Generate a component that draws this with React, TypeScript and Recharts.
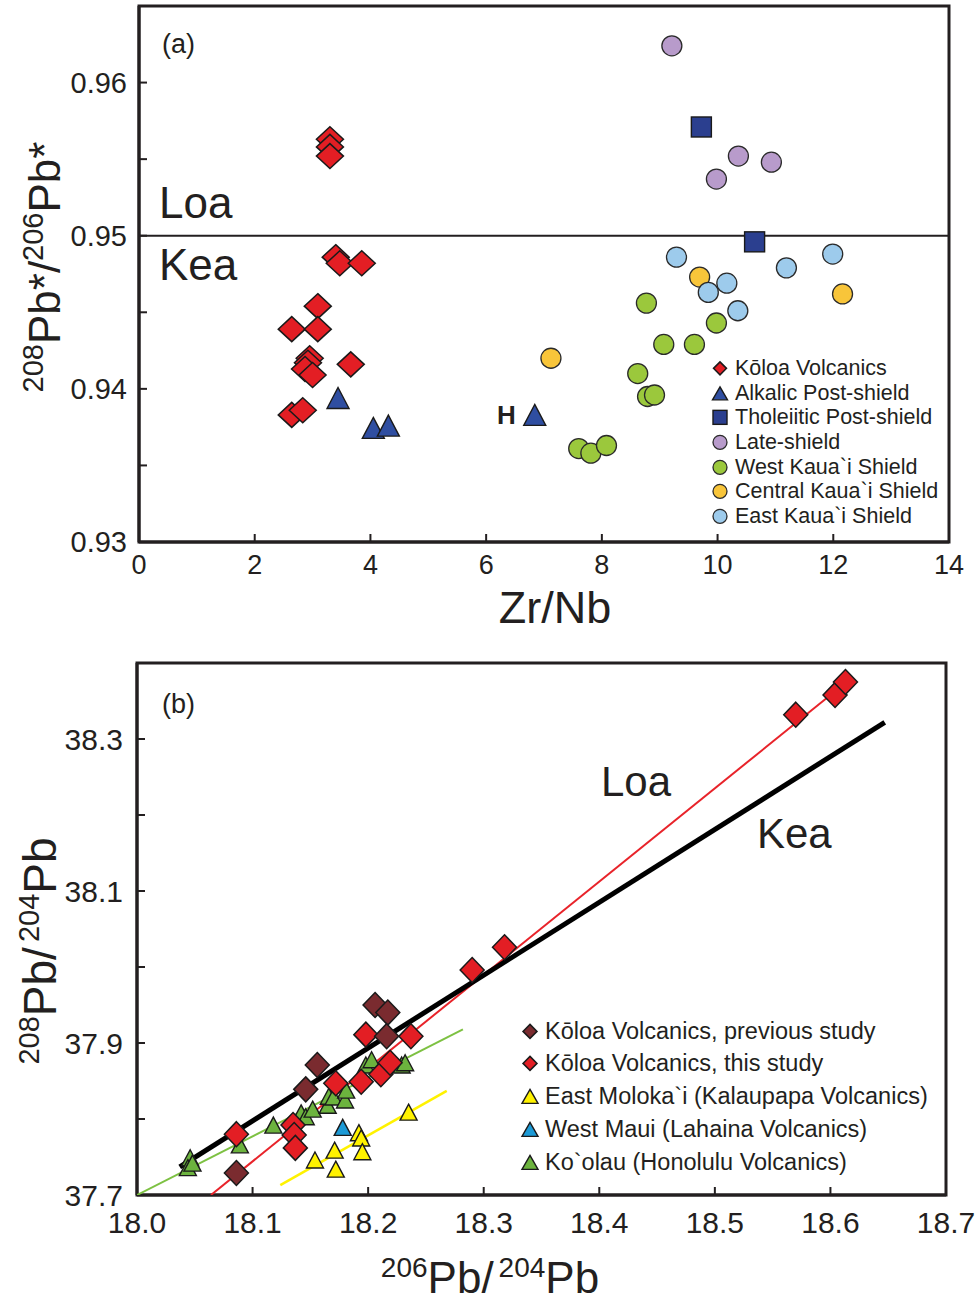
import React from 'react'
import { ScatterChart, Scatter, XAxis, YAxis, ReferenceLine, ReferenceArea, Legend } from 'recharts'

const FONT = '"Liberation Sans", Arial, Helvetica, sans-serif'
const INK = '#231f20'
const EDGE = '#1a1a1a'

// ---- panel (a): Zr/Nb vs 208Pb*/206Pb*
const koloaA = [
  { x: 3.3, y: 0.9563 }, { x: 3.3, y: 0.9558 }, { x: 3.3, y: 0.9552 },
  { x: 3.4, y: 0.9486 }, { x: 3.47, y: 0.9482 }, { x: 3.85, y: 0.9482 },
  { x: 3.09, y: 0.9454 }, { x: 2.64, y: 0.9439 }, { x: 3.09, y: 0.9439 },
  { x: 2.95, y: 0.942 }, { x: 2.92, y: 0.9417 }, { x: 2.87, y: 0.9413 }, { x: 3.0, y: 0.9409 },
  { x: 3.66, y: 0.9416 }, { x: 2.64, y: 0.9383 }, { x: 2.83, y: 0.9386 },
]
const alkalicA = [{ x: 3.44, y: 0.9394 }, { x: 4.05, y: 0.93745 }, { x: 4.31, y: 0.9376 }, { x: 6.84, y: 0.9383 }]
const tholeiiticA = [{ x: 9.72, y: 0.9571 }, { x: 10.64, y: 0.9496 }]
const lateShieldA = [{ x: 9.21, y: 0.9624 }, { x: 10.36, y: 0.9552 }, { x: 10.93, y: 0.9548 }, { x: 9.98, y: 0.9537 }]
const westKauaiA = [
  { x: 8.77, y: 0.9456 }, { x: 9.98, y: 0.9443 }, { x: 9.07, y: 0.9429 }, { x: 9.6, y: 0.9429 },
  { x: 8.62, y: 0.941 }, { x: 8.79, y: 0.9395 }, { x: 8.91, y: 0.9396 },
  { x: 7.6, y: 0.9361 }, { x: 7.81, y: 0.9358 }, { x: 8.08, y: 0.9363 },
]
const centralKauaiA = [{ x: 9.69, y: 0.9473 }, { x: 12.16, y: 0.9462 }, { x: 7.12, y: 0.942 }]
const eastKauaiA = [
  { x: 9.29, y: 0.9486 }, { x: 11.19, y: 0.9479 }, { x: 11.99, y: 0.9488 },
  { x: 10.16, y: 0.9469 }, { x: 9.84, y: 0.9463 }, { x: 10.35, y: 0.9451 },
]
const seriesNamesA = [
  'Kōloa Volcanics', 'Alkalic Post-shield', 'Tholeiitic Post-shield', 'Late-shield',
  'West Kaua`i Shield', 'Central Kaua`i Shield', 'East Kaua`i Shield',
]
const xTicksA = [0, 2, 4, 6, 8, 10, 12, 14]
const yTicksA = [0.93, 0.935, 0.94, 0.945, 0.95, 0.955, 0.96]
const yLabelsA = [0.93, 0.94, 0.95, 0.96]
const loaKeaSplit = 0.95

// ---- panel (b): 206Pb/204Pb vs 208Pb/204Pb
const koloaPrevB = [
  { x: 18.206, y: 37.95 }, { x: 18.217, y: 37.94 }, { x: 18.216, y: 37.909 },
  { x: 18.156, y: 37.871 }, { x: 18.146, y: 37.839 }, { x: 18.086, y: 37.729 },
]
const koloaThisB = [
  { x: 18.57, y: 38.332 }, { x: 18.604, y: 38.358 }, { x: 18.613, y: 38.375 },
  { x: 18.318, y: 38.026 }, { x: 18.29, y: 37.996 },
  { x: 18.198, y: 37.911 }, { x: 18.237, y: 37.909 },
  { x: 18.172, y: 37.847 }, { x: 18.194, y: 37.849 }, { x: 18.211, y: 37.859 }, { x: 18.219, y: 37.874 },
  { x: 18.086, y: 37.78 }, { x: 18.135, y: 37.792 }, { x: 18.136, y: 37.779 }, { x: 18.137, y: 37.762 },
]
const molokaiB = [
  { x: 18.235, y: 37.809 }, { x: 18.192, y: 37.782 }, { x: 18.194, y: 37.775 }, { x: 18.195, y: 37.757 },
  { x: 18.171, y: 37.759 }, { x: 18.172, y: 37.734 }, { x: 18.154, y: 37.746 },
]
const mauiB = [{ x: 18.178, y: 37.789 }]
const koolauB = [
  { x: 18.046, y: 37.749 }, { x: 18.044, y: 37.736 }, { x: 18.048, y: 37.742 },
  { x: 18.089, y: 37.766 }, { x: 18.118, y: 37.792 }, { x: 18.142, y: 37.808 }, { x: 18.146, y: 37.803 },
  { x: 18.152, y: 37.813 }, { x: 18.165, y: 37.818 }, { x: 18.166, y: 37.83 }, { x: 18.17, y: 37.829 },
  { x: 18.18, y: 37.825 }, { x: 18.181, y: 37.838 }, { x: 18.198, y: 37.871 }, { x: 18.203, y: 37.878 },
  { x: 18.229, y: 37.871 }, { x: 18.232, y: 37.874 },
]
const keaLine = [{ x: 18.037, y: 37.737 }, { x: 18.647, y: 38.322 }]
const koloaLine = [{ x: 18.064, y: 37.7 }, { x: 18.614, y: 38.375 }]
const koolauLine = [{ x: 18.0, y: 37.7 }, { x: 18.282, y: 37.918 }]
const molokaiLine = [{ x: 18.124, y: 37.713 }, { x: 18.268, y: 37.837 }]
const seriesNamesB = [
  'Kōloa Volcanics, previous study', 'Kōloa Volcanics, this study',
  'East Moloka`i (Kalaupapa Volcanics)', 'West Maui (Lahaina Volcanics)', 'Ko`olau (Honolulu Volcanics)',
]
const xTicksB = [18.0, 18.1, 18.2, 18.3, 18.4, 18.5, 18.6, 18.7]
const yTicksB = [37.7, 37.8, 37.9, 38.0, 38.1, 38.2, 38.3]
const yLabelsB = [37.7, 37.9, 38.1, 38.3]

type P = { cx?: number; cy?: number }

const diamond = (rx: number, ry: number, fill: string) => ({ cx = 0, cy = 0 }: P) => (
  <polygon points={`${cx},${cy - ry} ${cx + rx},${cy} ${cx},${cy + ry} ${cx - rx},${cy}`}
    fill={fill} stroke={EDGE} strokeWidth={1.5} />
)
const triangle = (w: number, h: number, fill: string) => ({ cx = 0, cy = 0 }: P) => (
  <polygon points={`${cx},${cy - h / 2} ${cx + w / 2},${cy + h / 2} ${cx - w / 2},${cy + h / 2}`}
    fill={fill} stroke={EDGE} strokeWidth={1.4} strokeLinejoin="miter" />
)
const square = (s: number, fill: string) => ({ cx = 0, cy = 0 }: P) => (
  <rect x={cx - s / 2} y={cy - s / 2} width={s} height={s} fill={fill} stroke={EDGE} strokeWidth={1.4} />
)
const circle = (r: number, fill: string) => ({ cx = 0, cy = 0 }: P) => (
  <circle cx={cx} cy={cy} r={r} fill={fill} stroke="#2a2a2a" strokeWidth={1.3} />
)
const noMark = () => <g />

const C = {
  red: '#e31e24', alk: '#2f4ea1', thol: '#2b3f8f', late: '#b89bcb',
  west: '#9bc83c', central: '#f8c53a', east: '#9dcbec',
  brown: '#7a2b2f', yellow: '#fff200', maui: '#1c9ad6', green: '#6cb33e',
}

const marksA = [
  diamond(13.5, 12.5, C.red), triangle(22, 21, C.alk), square(20, C.thol), circle(10, C.late),
  circle(10, C.west), circle(10, C.central), circle(10, C.east),
]
const keyMarksA = [
  diamond(6.5, 6.5, C.red), triangle(15, 13, C.alk), square(14, C.thol), circle(7, C.late),
  circle(7, C.west), circle(7, C.central), circle(7, C.east),
]
const keyMarksB = [
  diamond(7, 7, C.brown), diamond(7, 7, C.red), triangle(16, 14, C.yellow),
  triangle(16, 14, C.maui), triangle(16, 14, C.green),
]

function KeyList({ names, marks, rowH, fontSize }: { names: string[]; marks: ((p: P) => JSX.Element)[]; rowH: number; fontSize: number }) {
  return (
    <div style={{ fontFamily: FONT, color: INK, fontSize }}>
      {names.map((n, i) => (
        <div key={n} style={{ display: 'flex', alignItems: 'center', height: rowH, whiteSpace: 'nowrap' }}>
          <svg width={24} height={rowH} style={{ flex: 'none' }}>{marks[i]({ cx: 12, cy: rowH / 2 })}</svg>
          <span style={{ marginLeft: 3, lineHeight: `${rowH}px` }}>{n}</span>
        </div>
      ))}
    </div>
  )
}

const axisLine = { stroke: INK, strokeWidth: 3 }
const tickLine = { stroke: INK, strokeWidth: 2 }
const near = (list: number[], v: number) => list.some((l) => Math.abs(l - v) < 1e-9)

export default function App() {
  return (
    <div style={{ position: 'absolute', left: 0, top: 0, width: 975, height: 1306, background: '#fff' }}>
      <div style={{ position: 'absolute', left: 0, top: 0 }}>
        <ScatterChart width={975} height={640} margin={{ top: 6, right: 26, bottom: 58, left: 79 }}>
          <XAxis type="number" dataKey="x" domain={[0, 14]} ticks={xTicksA} interval={0} allowDataOverflow
            height={40} tickSize={-8} tickMargin={21} axisLine={axisLine} tickLine={tickLine}
            tick={{ fontSize: 27, fill: INK, fontFamily: FONT }} />
          <YAxis type="number" dataKey="y" domain={[0.93, 0.965]} ticks={yTicksA} interval={0} allowDataOverflow
            width={60} tickSize={-8} tickMargin={20} axisLine={axisLine} tickLine={tickLine}
            tickFormatter={(v: number) => (near(yLabelsA, v) ? v.toFixed(2) : '')}
            tick={{ fontSize: 29, fill: INK, fontFamily: FONT }} />
          <ReferenceArea x1={0} x2={14} y1={0.93} y2={0.965} fill="none" fillOpacity={0} stroke={INK} strokeWidth={3} />
          <ReferenceLine y={loaKeaSplit} stroke={INK} strokeWidth={2} />
          <Scatter data={westKauaiA} shape={marksA[4]} isAnimationActive={false} />
          <Scatter data={centralKauaiA} shape={marksA[5]} isAnimationActive={false} />
          <Scatter data={eastKauaiA} shape={marksA[6]} isAnimationActive={false} />
          <Scatter data={lateShieldA} shape={marksA[3]} isAnimationActive={false} />
          <Scatter data={tholeiiticA} shape={marksA[2]} isAnimationActive={false} />
          <Scatter data={alkalicA} shape={marksA[1]} isAnimationActive={false} />
          <Scatter data={koloaA} shape={marksA[0]} isAnimationActive={false} />
          <Legend layout="horizontal" verticalAlign="middle" align="center"
            wrapperStyle={{ left: 708, top: 356, width: 262 }}
            content={() => <KeyList names={seriesNamesA} marks={keyMarksA} rowH={24.7} fontSize={21.5} />} />
        </ScatterChart>
      </div>

      <div style={{ position: 'absolute', left: 0, top: 640 }}>
        <ScatterChart width={975} height={666} margin={{ top: 23, right: 29, bottom: 71, left: 77 }}>
          <XAxis type="number" dataKey="x" domain={[18.0, 18.7]} ticks={xTicksB} interval={0} allowDataOverflow
            height={40} tickSize={-8} tickMargin={25} axisLine={axisLine} tickLine={tickLine}
            tickFormatter={(v: number) => v.toFixed(1)}
            tick={{ fontSize: 30, fill: INK, fontFamily: FONT }} />
          <YAxis type="number" dataKey="y" domain={[37.7, 38.4]} ticks={yTicksB} interval={0} allowDataOverflow
            width={60} tickSize={-8} tickMargin={22} axisLine={axisLine} tickLine={tickLine}
            tickFormatter={(v: number) => (near(yLabelsB, v) ? v.toFixed(1) : '')}
            tick={{ fontSize: 30, fill: INK, fontFamily: FONT }} />
          <ReferenceArea x1={18.0} x2={18.7} y1={37.7} y2={38.4} fill="none" fillOpacity={0} stroke={INK} strokeWidth={3} />
          <Scatter data={koolauLine} line={{ stroke: '#7dc142', strokeWidth: 2 }} shape={noMark} isAnimationActive={false} />
          <Scatter data={molokaiLine} line={{ stroke: '#fff200', strokeWidth: 2.5 }} shape={noMark} isAnimationActive={false} />
          <Scatter data={koloaLine} line={{ stroke: '#e8232a', strokeWidth: 2 }} shape={noMark} isAnimationActive={false} />
          <Scatter data={keaLine} line={{ stroke: '#000', strokeWidth: 5 }} shape={noMark} isAnimationActive={false} />
          <Scatter data={koolauB} shape={triangle(17, 16, C.green)} isAnimationActive={false} />
          <Scatter data={molokaiB} shape={triangle(17, 16, C.yellow)} isAnimationActive={false} />
          <Scatter data={mauiB} shape={triangle(17, 16, C.maui)} isAnimationActive={false} />
          <Scatter data={koloaThisB} shape={diamond(12, 12.5, C.red)} isAnimationActive={false} />
          <Scatter data={koloaPrevB} shape={diamond(12, 12.5, C.brown)} isAnimationActive={false} />
          <Legend layout="horizontal" verticalAlign="middle" align="center"
            wrapperStyle={{ left: 518, top: 374.5, width: 445 }}
            content={() => <KeyList names={seriesNamesB} marks={keyMarksB} rowH={32.8} fontSize={23.5} />} />
        </ScatterChart>
      </div>

      <svg width={975} height={1306} style={{ position: 'absolute', left: 0, top: 0, pointerEvents: 'none' }}
        fontFamily={FONT} fill={INK}>
        <text x={162} y={53} fontSize={27}>(a)</text>
        <text x={159} y={218} fontSize={44}>Loa</text>
        <text x={159} y={280} fontSize={44}>Kea</text>
        <text x={497} y={424} fontSize={26} fontWeight="bold">H</text>
        <text transform="translate(60,267) rotate(-90)" textAnchor="middle" fontSize={44}>
          <tspan fontSize={29} dy={-17}>208</tspan><tspan dy={17}>Pb*/</tspan>
          <tspan fontSize={29} dy={-17}>206</tspan><tspan dy={17}>Pb*</tspan>
        </text>
        <text x={555} y={623} textAnchor="middle" fontSize={45}>Zr/Nb</text>

        <text x={162} y={713} fontSize={27}>(b)</text>
        <text x={601} y={796} fontSize={42}>Loa</text>
        <text x={757} y={848} fontSize={42}>Kea</text>
        <text transform="translate(56,951) rotate(-90)" textAnchor="middle" fontSize={46}>
          <tspan fontSize={29} dy={-17}>208</tspan><tspan dy={17}>Pb/</tspan>
          <tspan fontSize={29} dx={5} dy={-17}>204</tspan><tspan dy={17}>Pb</tspan>
        </text>
        <text x={490} y={1293} textAnchor="middle" fontSize={44}>
          <tspan fontSize={28} dy={-16}>206</tspan><tspan dy={16}>Pb/</tspan>
          <tspan fontSize={28} dx={5} dy={-16}>204</tspan><tspan dy={16}>Pb</tspan>
        </text>
      </svg>
    </div>
  )
}
